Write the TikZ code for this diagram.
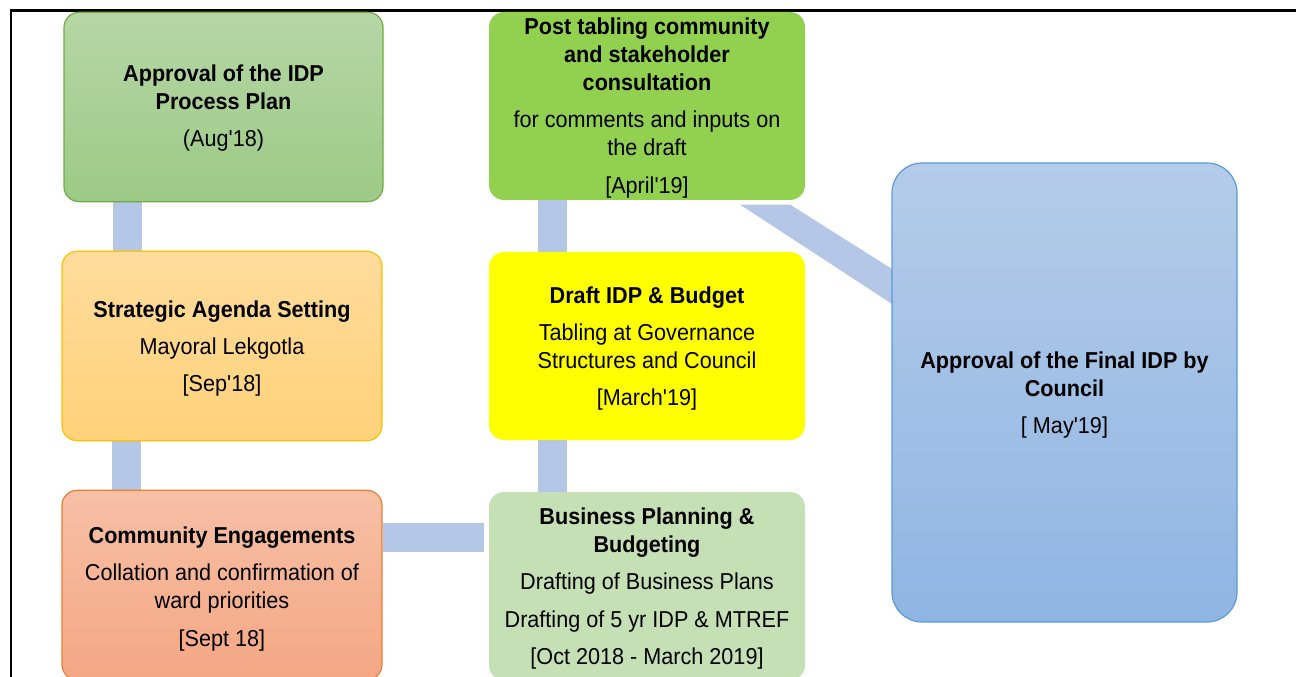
\documentclass[tikz,border=0pt]{standalone}
\usepackage{fontspec}
\newfontfamily\boxfont{Liberation Sans}[FakeStretch=0.94]
\usetikzlibrary{calc}

\definecolor{barblue}{HTML}{B4C7E7}
\definecolor{aTop}{HTML}{B6D6A6}
\definecolor{aBot}{HTML}{9CCA85}
\definecolor{aLine}{HTML}{70AD47}
\definecolor{bTop}{HTML}{FFDC9C}
\definecolor{bBot}{HTML}{FFD27A}
\definecolor{bLine}{HTML}{FFC000}
\definecolor{cTop}{HTML}{F7C0A6}
\definecolor{cBot}{HTML}{F4A784}
\definecolor{cLine}{HTML}{ED7D31}
\definecolor{dFill}{HTML}{92D050}
\definecolor{eFill}{HTML}{FFFF00}
\definecolor{fFill}{HTML}{C5E0B4}
\definecolor{gTop}{HTML}{B4CCE9}
\definecolor{gBot}{HTML}{8FB5E3}
\definecolor{gLine}{HTML}{5B9BD5}

\tikzset{
  stage/.style={rounded corners=11.25pt, inner sep=0pt, line width=0.9pt},
  small/.style={stage, minimum width=239pt, minimum height=142pt},
  narrow/.style={small, minimum width=237pt, minimum height=141pt},
  caption/.style={align=center, inner sep=0pt,
    font=\boxfont\fontsize{17.25pt}{21pt}\selectfont},
  bar/.style={draw=barblue, line width=21.75pt},
}

\begin{document}
\begin{tikzpicture}[x=0.75pt, y=-0.75pt]
\useasboundingbox (0,0) rectangle (1296,677);

% frame edges
\draw[line width=1.6pt, line cap=rect] (1300,10.5) -- (11,10.5) -- (11,680);

% ---- box outlines placed first (invisible) so the bars can refer to them ----
\path
  (223.5,107) node[small, minimum width=239.25pt] (A) {}
  (222,346)   node[small, minimum width=240pt] (B) {}
  (222,585)   node[small, minimum width=240pt] (C) {}
  (647,106)   node[narrow] (D) {}
  (647,346)   node[narrow] (E) {}
  (647,586)   node[narrow] (F) {}
  (1064.5,392.5) node[stage, minimum width=258.75pt, minimum height=344.25pt] (G) {};

% ---- connector bars (behind the boxes) ----
\coordinate (abx) at (127.5,0);
\coordinate (bcx) at (126.5,0);
\coordinate (efx) at (552.5,0);
\coordinate (cfy) at (0,537);

\draw[bar] (abx |- A.south) -- (abx |- B.north);
\draw[bar] (bcx |- B.south) -- (bcx |- C.north);
\draw[bar] (cfy -| C.east) -- ([xshift=-3pt]cfy -| F.west);
\draw[bar] ([yshift=-3pt]efx |- F.north) -- ([yshift=3pt]efx |- E.south);
\draw[bar] ([yshift=-3pt]efx |- E.north) -- ([yshift=3pt]efx |- D.south);

% slanted band from the April box to the final approval box
\coordinate (dg1) at ($(D.south)+(93,4)$);
\coordinate (dg2) at ($(D.south)+(143,4)$);
\coordinate (dg3) at (G.west |- 0,272);
\coordinate (dg4) at (G.west |- 0,307);
\fill[barblue] (dg1) -- (dg2) -- ([xshift=4pt]dg3) -- ([xshift=4pt]dg4) -- cycle;

% ---- stage boxes ----
\node[small, minimum width=239.25pt, draw=aLine, top color=aTop, bottom color=aBot] (Abox) at (A) {};
\node[small, minimum width=240pt, draw=bLine, top color=bTop, bottom color=bBot] (Bbox) at (B) {};
\node[small, minimum width=240pt, draw=cLine, top color=cTop, bottom color=cBot] (Cbox) at (C) {};
\node[narrow, fill=dFill] (Dbox) at (D) {};
\node[narrow, fill=eFill] (Ebox) at (E) {};
\node[narrow, fill=fFill] (Fbox) at (F) {};
\node[stage, rounded corners=22.5pt, minimum width=258.75pt, minimum height=344.25pt,
      draw=gLine, top color=gTop, bottom color=gBot] (Gbox) at (G) {};

% ---- box texts ----
\node[caption] (At) at ([yshift=-1pt]A.center)
  {\textbf{Approval of the IDP}\\\textbf{Process Plan}\\[7pt](Aug'18)};
\node[caption] (Bt) at ([yshift=-2pt]B.center)
  {\textbf{Strategic Agenda Setting}\\[7pt]Mayoral Lekgotla\\[7pt][Sep'18]};
\node[caption] (Ct) at ([yshift=-3pt]C.center)
  {\textbf{Community Engagements}\\[7pt]Collation and confirmation of\\ward priorities\\[7pt][Sept 18]};
\node[caption] (Dt) at ([yshift=-1.5pt]D.center)
  {\textbf{Post tabling community}\\\textbf{and stakeholder}\\\textbf{consultation}\\[7pt]for comments and inputs on\\the draft\\[7pt][April'19]};
\node[caption] (Et) at ([yshift=-2pt]E.center)
  {\textbf{Draft IDP \& Budget}\\[7pt]Tabling at Governance\\Structures and Council\\[7pt][March'19]};
\node[caption] (Ft) at ([yshift=-2pt]F.center)
  {\textbf{Business Planning \&}\\\textbf{Budgeting}\\[7pt]Drafting of Business Plans\\[7pt]Drafting of 5 yr IDP \& MTREF\\[7pt][Oct 2018 - March 2019]};
\node[caption] (Gt) at ([yshift=-2pt]G.center)
  {\textbf{Approval of the Final IDP by}\\\textbf{Council}\\[7pt][ May'19]};
\end{tikzpicture}
\end{document}
